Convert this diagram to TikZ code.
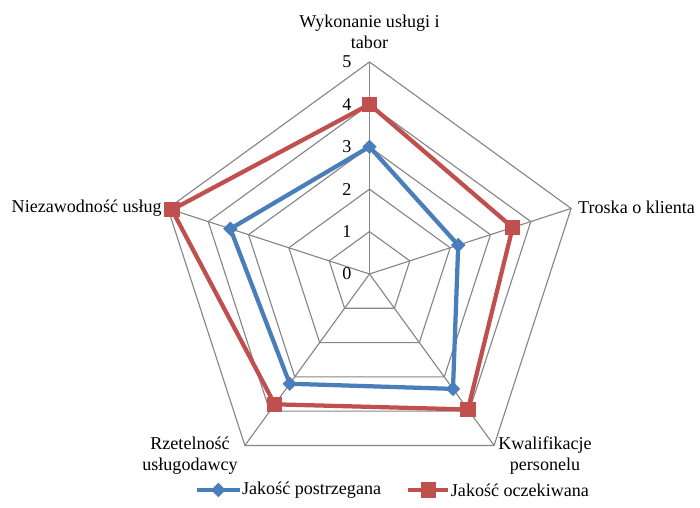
\documentclass[tikz,border=0pt]{standalone}
\usepackage{fontspec}
\setmainfont{Liberation Serif}
\usetikzlibrary{shapes.geometric}
\definecolor{seriesblue}{RGB}{74,126,187}
\definecolor{seriesred}{RGB}{192,80,77}
\definecolor{gridgray}{RGB}{134,134,134}

\begin{document}
\begin{tikzpicture}[x=1.1218cm,y=1.1218cm,
    font=\fontsize{13.6}{16}\selectfont,
    grid/.style={draw=gridgray, line width=0.85pt},
    blueline/.style={draw=seriesblue, line width=3.2pt, line join=round},
    redline/.style={draw=seriesred, line width=3.2pt, line join=miter},
    bluemark/.style={diamond, fill=seriesblue, inner sep=0pt, minimum width=11pt, minimum height=11pt},
    redmark/.style={rectangle, fill=seriesred, inner sep=0pt, minimum size=11.5pt},
    ticklabel/.style={anchor=east, inner sep=0pt},
    axislabel/.style={align=center, inner sep=0pt}]
  \useasboundingbox (-8.715,-5.519) rectangle (7.795,6.462);
  % grid
  \coordinate (o) at (0,0);
  \foreach \k in {1,...,5}
    \draw[grid] (90:\k) -- (18:\k) -- (-54:\k) -- (-126:\k) -- (162:\k) -- cycle;
  \foreach \a [count=\i] in {90,18,-54,-126,162} {
    \coordinate (ax_\i) at (\a:5);
    \draw[grid] (o) -- (ax_\i);
  }
  % scale
  \foreach \k in {0,...,5}
    \node[ticklabel] (t_\k) at (-0.42,\k) {\k};
  % axis names
  \node[axislabel] (n_1) at (0,5.72) {Wykonanie usługi i\\tabor};
  \node[axislabel, anchor=west] (n_2) at (4.917,1.58) {Troska o klienta};
  \node[axislabel] (n_3) at (4.14,-4.29) {Kwalifikacje\\personelu};
  \node[axislabel] (n_4) at (-4.233,-4.29) {Rzetelność\\usługodawcy};
  \node[axislabel, anchor=east] (n_5) at (-4.894,1.557) {Niezawodność usług};
  % series
  \foreach \a/\v [count=\i] in {90/3,18/2.2,-54/3.35,-126/3.2,162/3.45}
    \coordinate (b_\i) at (\a:\v);
  \foreach \a/\v [count=\i] in {90/4,18/3.55,-54/3.95,-126/3.8,162/4.9}
    \coordinate (r_\i) at (\a:\v);
  \draw[blueline] (b_1) -- (b_2) -- (b_3) -- (b_4) -- (b_5) -- cycle;
  \draw[redline] (r_1) -- (r_2) -- (r_3) -- (r_4) -- (r_5) -- cycle;
  \foreach \i in {1,...,5} {
    \node[bluemark] (bm_\i) at (b_\i) {};
    \node[redmark] (rm_\i) at (r_\i) {};
  }
  % legend
  \coordinate (lb_a) at (-4.075,-5.094);
  \coordinate (lb_b) at (-3.054,-5.094);
  \draw[blueline] (lb_a) -- (lb_b);
  \node[bluemark] (lb_m) at (-3.565,-5.094) {};
  \node[anchor=west, inner sep=0pt] (lb_t) at (-3.01,-5.094) {Jakość postrzegana};
  \coordinate (lr_a) at (0.902,-5.094);
  \coordinate (lr_b) at (1.86,-5.094);
  \draw[redline] (lr_a) -- (lr_b);
  \node[redmark] (lr_m) at (1.386,-5.094) {};
  \node[anchor=west, inner sep=0pt] (lr_t) at (1.915,-5.094) {Jakość oczekiwana};
\end{tikzpicture}
\end{document}
